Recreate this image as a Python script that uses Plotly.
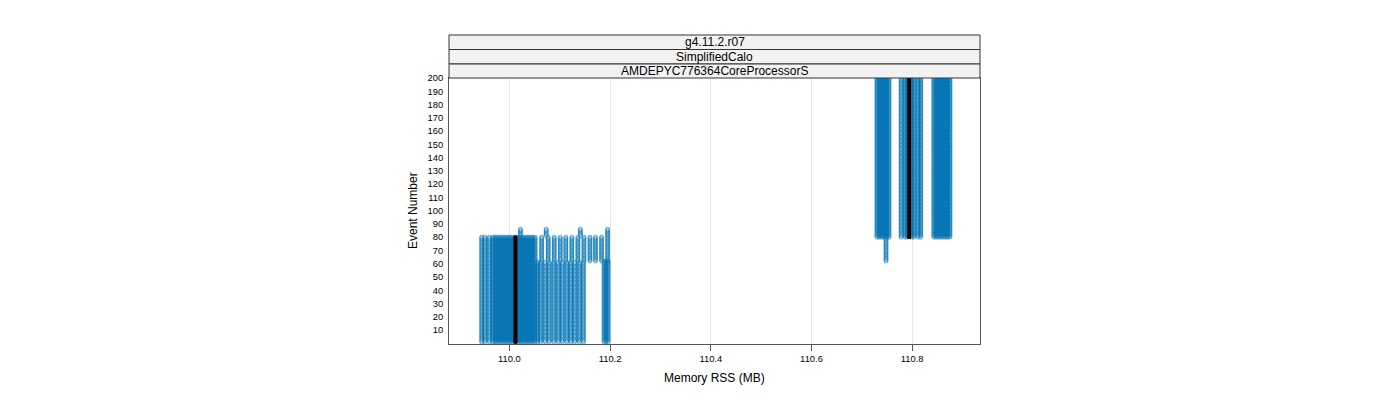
import plotly.graph_objects as go

# ---- data: Memory RSS (MB) columns and the event spans they cover ----
edge_x = [109.945, 109.951, 109.960]
edge_events = (1, 80)

dense_x = [109.967, 109.971, 109.975, 109.979, 109.983, 109.987, 109.991, 109.995,
           109.999, 110.003, 110.007, 110.011, 110.015, 110.019, 110.023, 110.027,
           110.031, 110.035, 110.039, 110.043, 110.047, 110.051]
dense_events = (1, 80)

upper_x = [110.064, 110.077, 110.089, 110.101, 110.112, 110.124, 110.136, 110.148,
           110.160, 110.171, 110.183, 110.195]
upper_events = (62, 80)

lower_x = [110.056, 110.062, 110.071, 110.079, 110.088, 110.097, 110.105, 110.114,
           110.122, 110.130, 110.139, 110.147]
lower_events = (1, 61)

high_x = [110.188, 110.192, 110.196]
high_events = (1, 62)

spike_x = [110.022, 110.073, 110.141, 110.195]
spike_events = (81, 86)

groupA_x = [110.730, 110.734, 110.738, 110.742, 110.746, 110.750, 110.754]
groupA_events = (80, 200)

tail_x = [110.748]
tail_events = (62, 79)

groupB_x = [110.778, 110.786, 110.790, 110.799, 110.803, 110.812, 110.817]
groupB_events = (80, 200)

groupC_x = [110.843, 110.847, 110.851, 110.855, 110.859, 110.863, 110.867, 110.871, 110.875]
groupC_events = (80, 200)

median_x = [110.012, 110.794]
median_first = [1, 80]
median_last = [80, 200]

x_ticks = [110.0, 110.2, 110.4, 110.6, 110.8]
x_ticktext = ["110.0", "110.2", "110.4", "110.6", "110.8"]
y_ticks = list(range(10, 201, 10))
strip_labels = ["g4.11.2.r07", "SimplifiedCalo", "AMDEPYC776364CoreProcessorS"]

groups = [
    (edge_x, edge_events), (dense_x, dense_events), (upper_x, upper_events),
    (lower_x, lower_events), (high_x, high_events), (spike_x, spike_events),
    (groupA_x, groupA_events), (tail_x, tail_events), (groupB_x, groupB_events),
    (groupC_x, groupC_events),
]

px_, py_ = [], []
for xs, (e0, e1) in groups:
    for xv in xs:
        for ev in range(e0, e1 + 1):
            px_.append(xv)
            py_.append(ev)

BLUE = "#0072B2"
FONT = "Liberation Sans, Arial, sans-serif"

fig = go.Figure()
fig.add_trace(go.Scatter(
    x=px_, y=py_, mode="markers",
    marker=dict(symbol="circle-open", size=4, color=BLUE, line=dict(width=0.6, color=BLUE)),
    showlegend=False, hoverinfo="x+y",
))
for mx, f, l in zip(median_x, median_first, median_last):
    fig.add_trace(go.Scatter(
        x=[mx, mx], y=[f, l], mode="lines+markers",
        line=dict(color="black", width=4),
        marker=dict(color="black", size=4),
        showlegend=False,
    ))

plot_top_px, plot_bot_px, top_margin = 78, 344, 35
paper_h = plot_bot_px - top_margin
ydom_top = (plot_bot_px - plot_top_px) / paper_h

fig.update_layout(
    width=1400, height=400, autosize=False,
    margin=dict(l=449, r=420, t=top_margin, b=400 - plot_bot_px),
    paper_bgcolor="white", plot_bgcolor="white",
    font=dict(family=FONT, color="black"),
    xaxis=dict(
        range=[109.880, 110.9347], tickvals=x_ticks, ticktext=x_ticktext,
        ticks="outside", ticklen=6, tickcolor="#555", tickwidth=1,
        showline=True, linecolor="#555", linewidth=1, mirror=True,
        showgrid=True, gridcolor="#e6e6e6", gridwidth=1, zeroline=False,
        tickfont=dict(size=9.4, family=FONT, color="black"), anchor="y",
    ),
    xaxis2=dict(
        range=[109.880, 110.9347], tickvals=x_ticks, overlaying="x", side="top",
        anchor="free", position=1, ticks="outside", ticklen=5, tickcolor="#333",
        showticklabels=False, showgrid=False, showline=False, zeroline=False,
    ),
    yaxis=dict(
        domain=[0, ydom_top], range=[-0.556, 200], tickvals=y_ticks,
        ticks="outside", ticklen=3, tickcolor="rgba(0,0,0,0)",
        showline=True, linecolor="#555", linewidth=1, mirror=True,
        showgrid=False, zeroline=False,
        tickfont=dict(size=9.4, family=FONT, color="black"),
    ),
)

# strips above the panel
strip_px = [35, 49.5, 64, 78]
for i, lab in enumerate(strip_labels):
    y1 = (plot_bot_px - strip_px[i]) / paper_h
    y0 = (plot_bot_px - strip_px[i + 1]) / paper_h
    fig.add_shape(type="rect", xref="paper", yref="paper", x0=0, x1=1, y0=y0, y1=y1,
                  fillcolor="#f2f2f2", line=dict(color="#333", width=1))
    fig.add_annotation(text=lab, xref="paper", yref="paper", x=0.5, y=(y0 + y1) / 2,
                       showarrow=False, xanchor="center", yanchor="middle",
                       font=dict(size=12, family=FONT, color="black"))

fig.add_annotation(text="Memory RSS (MB)", xref="paper", yref="paper",
                   x=0.5, y=(plot_bot_px - 378) / paper_h, showarrow=False,
                   xanchor="center", yanchor="middle",
                   font=dict(size=12, family=FONT, color="black"))
fig.add_annotation(text="Event Number", xref="paper", yref="paper",
                   x=(413 - 449) / 531, y=(plot_bot_px - 211) / paper_h, textangle=-90,
                   showarrow=False, xanchor="center", yanchor="middle",
                   font=dict(size=12, family=FONT, color="black"))

fig.write_html("out.html")
